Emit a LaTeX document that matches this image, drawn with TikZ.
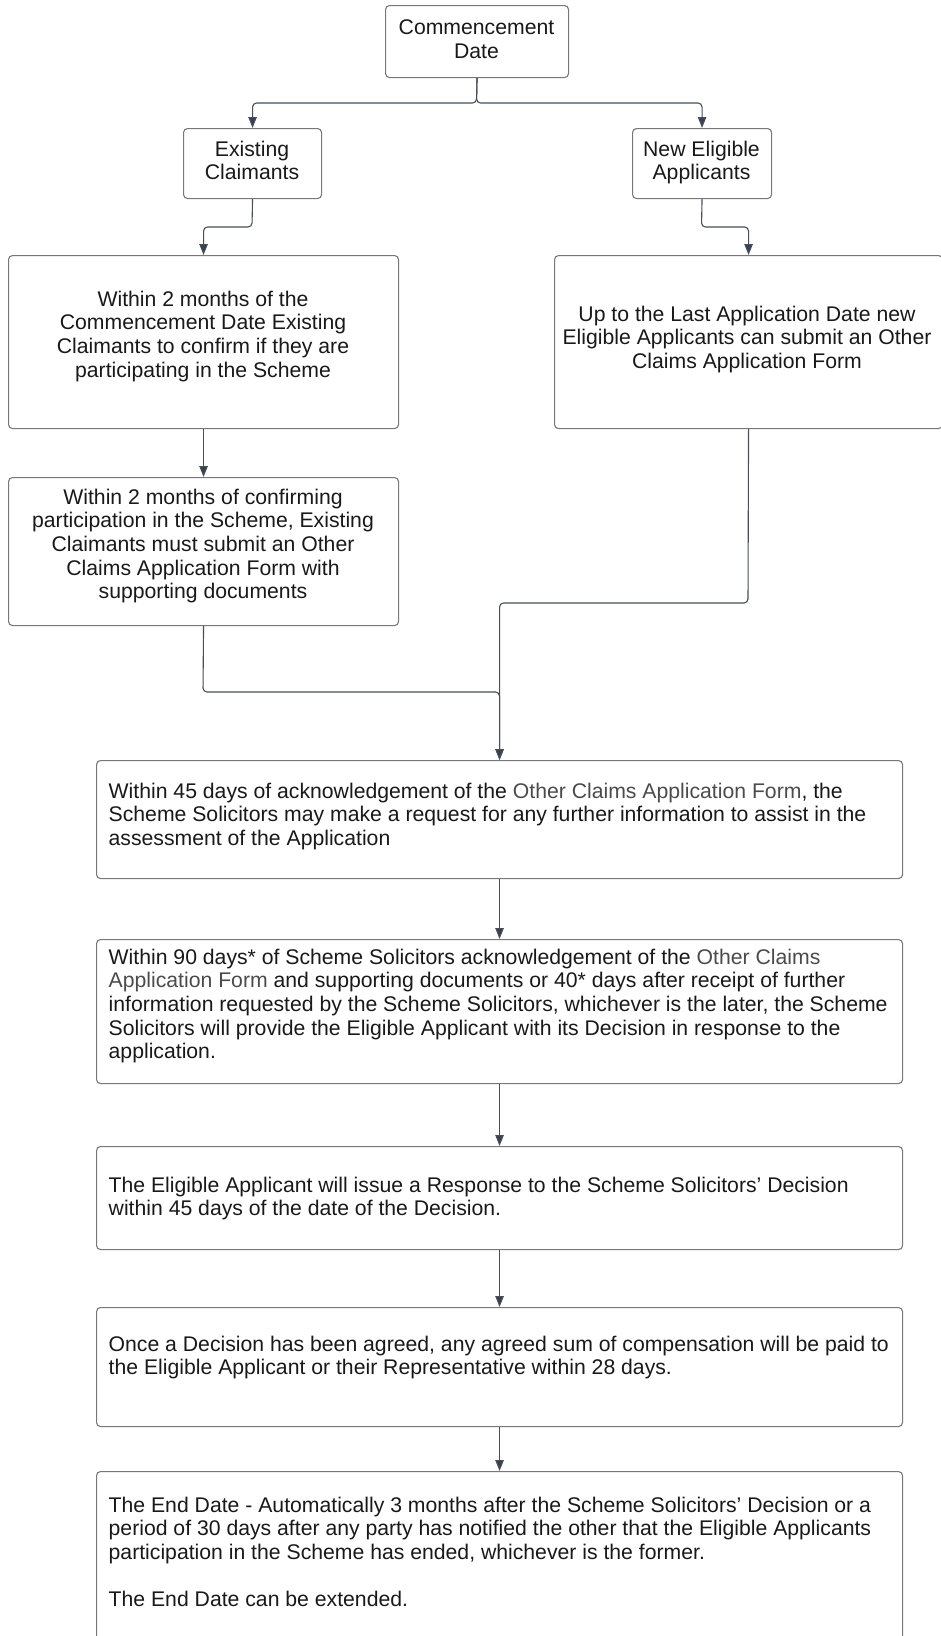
\documentclass[tikz,border=0pt]{standalone}
\usepackage{fontspec}
\setmainfont{Liberation Sans}
\usetikzlibrary{arrows.meta}
\definecolor{bordercol}{RGB}{120,120,120}
\definecolor{conncol}{RGB}{72,78,90}
\definecolor{tipcol}{RGB}{58,64,78}
\definecolor{txtcol}{RGB}{25,25,25}
\definecolor{ocol}{RGB}{75,75,75}
\begin{document}
\begin{tikzpicture}[x=1pt,y=-1pt,
  box/.style={draw=bordercol,line width=1.1pt,rounded corners=4pt,inner sep=0pt,anchor=north west},
  txt/.style={inner sep=0pt,text=txtcol,font=\fontsize{21.2}{23.7}\selectfont},
  ctxt/.style={txt,align=center,anchor=north},
  ltxt/.style={txt,align=left,anchor=north west},
  conn/.style={draw=conncol,line width=1.1pt,rounded corners=4pt,-{Triangle[length=11pt,width=8.5pt,fill=tipcol]}},
  plain/.style={draw=conncol,line width=1.1pt,rounded corners=4pt}]
\useasboundingbox (0,0) rectangle (940,1636);
\fill[white] (0,0) rectangle (940,1636);
% boxes
\node[box,minimum width=183pt,minimum height=72pt] (cd) at (385,5) {};
\node[box,minimum width=138pt,minimum height=70pt] (ec) at (183,128) {};
\node[box,minimum width=139pt,minimum height=70pt] (ne) at (632,128) {};
\node[box,minimum width=390pt,minimum height=173pt] (b1) at (8,255) {};
\node[box,minimum width=388pt,minimum height=173pt] (b2) at (554,255) {};
\node[box,minimum width=390pt,minimum height=148pt] (b3) at (8,477) {};
\node[box,minimum width=806pt,minimum height=118pt] (b4) at (96,760) {};
\node[box,minimum width=806pt,minimum height=144pt] (b5) at (96,939) {};
\node[box,minimum width=806pt,minimum height=103pt] (b6) at (96,1146) {};
\node[box,minimum width=806pt,minimum height=119pt] (b7) at (96,1307) {};
\node[box,minimum width=806pt,minimum height=175pt] (b8) at (96,1471) {};
% texts
\node[ctxt] (tcd) at (476.5,19.5) {Commencement\\Date};
\node[ctxt] (tec) at (252,140.5) {Existing\\Claimants};
\node[ctxt] (tne) at (701.5,140.5) {New Eligible\\Applicants};
\node[ctxt] (t1) at (203,290.5) {Within 2 months of the\\Commencement Date Existing\\Claimants to confirm if they are\\participating in the Scheme};
\node[ctxt] (t2) at (747,305.5) {Up to the Last Application Date new\\Eligible Applicants can submit an Other\\Claims Application Form};
\node[ctxt] (t3) at (203,488.5) {Within 2 months of confirming\\participation in the Scheme, Existing\\Claimants must submit an Other\\Claims Application Form with\\supporting documents};
\node[ltxt] (t4) at (108.5,782.5) {Within 45 days of acknowledgement of the \textcolor{ocol}{Other Claims Application Form}, the\\Scheme Solicitors may make a request for any further information to assist in the\\assessment of the Application};
\node[ltxt] (t5) at (108.5,948.5) {Within 90 days* of Scheme Solicitors acknowledgement of the \textcolor{ocol}{Other Claims}\\\textcolor{ocol}{Application Form} and supporting documents or 40* days after receipt of further\\information requested by the Scheme Solicitors, whichever is the later, the Scheme\\Solicitors will provide the Eligible Applicant with its Decision in response to the\\application.};
\node[ltxt] (t6) at (108.5,1176.5) {The Eligible Applicant will issue a Response to the Scheme Solicitors' Decision\\within 45 days of the date of the Decision.};
\node[ltxt] (t7) at (108.5,1335.5) {Once a Decision has been agreed, any agreed sum of compensation will be paid to\\the Eligible Applicant or their Representative within 28 days.};
\node[ltxt] (t8) at (108.5,1496.5) {The End Date - Automatically 3 months after the Scheme Solicitors' Decision or a\\period of 30 days after any party has notified the other that the Eligible Applicants\\participation in the Scheme has ended, whichever is the former.\\[23.7pt]The End Date can be extended.};
% connector points
\coordinate (j0) at (476.5,103);
\coordinate (j1) at (252,227);
\coordinate (j2) at (701.5,227);
\coordinate (j3) at (203,692);
\coordinate (j4) at (748,603);
% connectors
\draw[conn] (cd.south) -- (j0) -| (ec.north);
\draw[conn] (cd.south) -- (j0) -| (ne.north);
\draw[conn] (ec.south) -- (j1) -| (b1.north);
\draw[conn] (ne.south) -- (j2) -| (b2.north);
\draw[conn] (b1.south) -- (b3.north);
\draw[conn] (b3.south) -- (j3) -| (b4.north);
\draw[conn] (b2.south) -- (j4) -| (b4.north);
\draw[conn] (b4.south) -- (b5.north);
\draw[conn] (b5.south) -- (b6.north);
\draw[conn] (b6.south) -- (b7.north);
\draw[conn] (b7.south) -- (b8.north);
\end{tikzpicture}
\end{document}
